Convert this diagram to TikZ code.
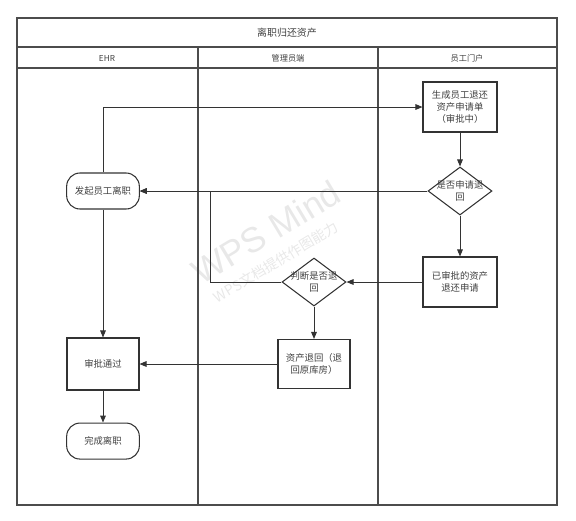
\documentclass[tikz,border=0pt]{standalone}
\usepackage{fontspec}
\setmainfont{Noto Sans CJK SC}
\newfontfamily\wmfont{Liberation Sans}
\usetikzlibrary{arrows.meta,positioning,shapes.geometric}

\begin{document}
\begin{tikzpicture}[
    x=0.03cm, y=-0.03cm,
    % Base styles for the flow chart
    every node/.style={font=\fontsize{8}{10}\selectfont, text=black!75},
    lane/.style={draw=black!70, line width=1pt},
    proc/.style={draw=black!80, line width=0.9pt, rectangle,
        minimum width=2.22cm, minimum height=1.5cm, % boxes of the lanes
        align=center, inner sep=2pt},
    term/.style={draw=black!80, line width=0.9pt, rectangle, rounded corners=0.4cm,
        minimum width=2.18cm, minimum height=1.08cm, align=center},
    decision/.style={draw=black!80, line width=0.9pt, diamond,
        minimum width=1.92cm, minimum height=1.44cm, inner sep=0pt},
    flow/.style={draw=black!80, line width=0.8pt, -{Triangle[length=2.1mm, width=1.7mm]}},
    wmark/.style={text=black!9}
]
\useasboundingbox (0,0) rectangle (576,520);

% ==================== WATERMARK ====================
\node[wmark, rotate=31, font=\wmfont\fontsize{30}{30}\selectfont] (wm1) at (266,232) {WPS Mind};
\node[wmark, rotate=31, font=\fontsize{12}{12}\selectfont] (wm2) at (276,262) {WPS文档提供作图能力};

% ==================== FRAME AND LANES ====================
\draw[lane] (17,18) rectangle (557,505);
\draw[lane] (17,47) -- (557,47);
\draw[lane] (17,68) -- (557,68);
\draw[lane] (198,47) -- (198,505);
\draw[lane] (378,47) -- (378,505);
\node[font=\fontsize{8.5}{10}\selectfont] (title) at (287,33) {离职归还资产};
\node[font=\fontsize{7}{8}\selectfont] (h1) at (107,58) {EHR};
\node[font=\fontsize{7}{8}\selectfont] (h2) at (288,58) {管理员端};
\node[font=\fontsize{7}{8}\selectfont] (h3) at (467,58) {员工门户};

% ==================== EHR ====================
\node[term] (e1) at (103,191) {发起员工离职};
\node[proc, minimum width=2.16cm, minimum height=1.56cm] (e2) at (103,364) {审批通过};
\node[term, below=0.96cm of e2] (e3) {完成离职};

% ==================== 员工门户 ====================
\node[proc] (u1) at (460,107) {生成员工退还\\资产申请单\\（审批中）};
\node[decision, label={[align=center]center:是否申请退\\回}] (u2) at (460,191) {};
\node[proc] (u3) at (460,282) {已审批的资产\\退还申请};

% ==================== 管理员端 ====================
\node[decision, label={[align=center]center:判断是否退\\回}] (a1) at (314,282) {};
\node[proc, minimum width=2.16cm, minimum height=1.47cm] (a2) at (314,364) {资产退回（退\\回原库房）};
\coordinate (jn) at (210,191);

% edges with arrows
\foreach \a/\b in {u1/u2, u2/u3, u3/a1, a1/a2, a2/e2, u2/e1, e1/e2, e2/e3}
    \draw[flow] (\a) -- (\b);
\draw[flow] (e1.north) |- (u1.west);
\draw[flow] (a1.west) -| (jn) -- (e1.east);

\end{tikzpicture}
\end{document}
